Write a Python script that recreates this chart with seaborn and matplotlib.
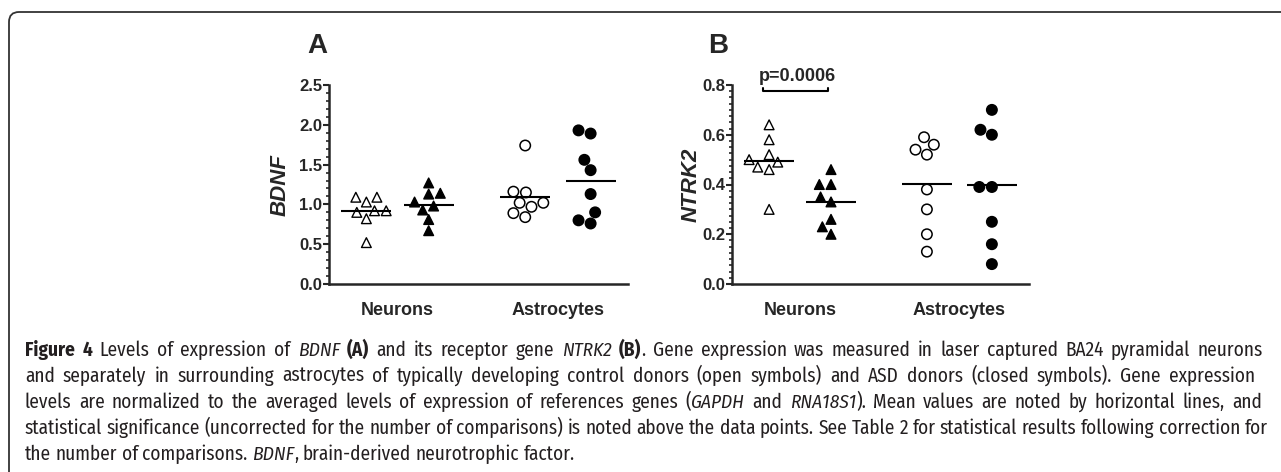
import numpy as np
import pandas as pd
import matplotlib
matplotlib.use('Agg')
import matplotlib.pyplot as plt
import seaborn as sns
from matplotlib import font_manager
from matplotlib.patches import FancyBboxPatch
from matplotlib.transforms import IdentityTransform
from matplotlib.ticker import MultipleLocator

# dados
grupos = ['Neurons', 'Astrocytes']
doadores = ['Control', 'ASD']

bdnf_neu_ctrl = [0.92, 1.09, 0.90, 1.03, 0.82, 1.09, 0.92, 0.52]
bdnf_neu_asd = [1.27, 1.13, 1.14, 0.98, 0.93, 1.03, 0.81, 0.67]
bdnf_ast_ctrl = [1.74, 1.16, 1.15, 1.02, 1.02, 0.97, 0.89, 0.84]
bdnf_ast_asd = [1.93, 1.89, 1.56, 1.43, 1.13, 0.90, 0.76, 0.80]

ntrk2_neu_ctrl = [0.64, 0.58, 0.52, 0.50, 0.49, 0.47, 0.46, 0.30]
ntrk2_neu_asd = [0.46, 0.40, 0.40, 0.35, 0.33, 0.26, 0.23, 0.20]
ntrk2_ast_ctrl = [0.59, 0.56, 0.54, 0.52, 0.38, 0.30, 0.20, 0.13]
ntrk2_ast_asd = [0.70, 0.60, 0.62, 0.39, 0.39, 0.25, 0.16, 0.08]

p_texto = 'p=0.0006'

# posicoes das colunas no eixo x
pos = [0, 1, 2.55, 3.6]

sns.set_style('ticks')
plt.rcParams['font.family'] = ['Liberation Sans', 'DejaVu Sans']

fig = plt.figure(figsize=(12.81, 4.72), dpi=100)


def monta(valores, p0, p1):
    a, b = valores
    return pd.DataFrame({'x': [p0] * len(a) + [p1] * len(b),
                         'y': a + b,
                         'doador': ['Control'] * len(a) + ['ASD'] * len(b)})


def painel(ax, dados, ymax, maior, menor, ylabel, label_x):
    neu = monta(dados[0:2], pos[0], pos[1])
    ast = monta(dados[2:4], pos[2], pos[3])
    cores = {'Control': 'white', 'ASD': 'black'}
    sns.swarmplot(data=neu, x='x', y='y', hue='doador', palette=cores, marker='^',
                  size=7, edgecolor='black', linewidth=1, native_scale=True,
                  legend=False, ax=ax)
    sns.swarmplot(data=ast, x='x', y='y', hue='doador', palette=cores, marker='o',
                  size=7.5, edgecolor='black', linewidth=1.1, native_scale=True,
                  legend=False, ax=ax)
    # linhas das medias
    for p, v in zip(pos, dados):
        ax.hlines(np.mean(v), p - 0.4, p + 0.4, color='black', lw=1.5, zorder=5)
    ax.set_xlim(-0.6, 4.2)
    ax.set_ylim(0, ymax)
    ax.yaxis.set_major_locator(MultipleLocator(maior))
    ax.yaxis.set_minor_locator(MultipleLocator(menor))
    ax.yaxis.set_major_formatter(matplotlib.ticker.FormatStrFormatter('%.1f'))
    ax.set_xticks([(pos[0] + pos[1]) / 2, (pos[2] + pos[3]) / 2])
    ax.set_xticklabels(grupos, fontsize=13, fontweight='bold')
    ax.tick_params(axis='x', length=0, pad=13)
    ax.tick_params(axis='y', which='major', length=4, width=1.5, labelsize=12, pad=1)
    ax.tick_params(axis='y', which='minor', length=2.5, width=1.2)
    for t in ax.get_yticklabels():
        t.set_fontweight('bold')
    ax.set_xlabel('')
    ax.set_ylabel(ylabel, fontsize=16, fontweight='bold', fontstyle='italic')
    ax.yaxis.set_label_coords(label_x, 0.5)
    sns.despine(ax=ax)
    for s in ['left', 'bottom']:
        ax.spines[s].set_linewidth(1.8)


ax1 = fig.add_axes([329 / 1281, 188 / 472, 299 / 1281, 199 / 472])
painel(ax1, [bdnf_neu_ctrl, bdnf_neu_asd, bdnf_ast_ctrl, bdnf_ast_asd],
       2.5, 0.5, 0.1, 'BDNF', -0.127)

ax2 = fig.add_axes([732 / 1281, 188 / 472, 297 / 1281, 199 / 472])
painel(ax2, [ntrk2_neu_ctrl, ntrk2_neu_asd, ntrk2_ast_ctrl, ntrk2_ast_asd],
       0.8, 0.2, 0.025, 'NTRK2', -0.104)

# significancia
ax2.plot([pos[0] - 0.1, pos[0] - 0.1, pos[1] - 0.05, pos[1] - 0.05],
         [0.788, 0.776, 0.776, 0.788], color='black', lw=1.5, clip_on=False)
ax2.text((pos[0] + pos[1]) / 2 - 0.05, 0.80, p_texto, ha='center', va='bottom',
         fontsize=13, fontweight='bold', clip_on=False)

# letras dos paineis
fig.text(307 / 1281, 1 - 53 / 472, 'A', fontsize=20, fontweight='bold', va='baseline')
fig.text(708 / 1281, 1 - 53 / 472, 'B', fontsize=20, fontweight='bold', va='baseline')

# moldura arredondada
moldura = FancyBboxPatch((9, -40), 1320, 460 + 40, boxstyle='round,pad=0,rounding_size=10',
                         transform=IdentityTransform(), fill=False, ec='#333333', lw=1.3)
fig.patches.append(moldura)

# legenda da figura
nomes = [f.name for f in font_manager.fontManager.ttflist]
fonte_leg = 'Fira Sans Condensed' if 'Fira Sans Condensed' in nomes else 'DejaVu Sans'

linhas = [
    [('Figure 4', 'b'), ('Levels of expression of', 'n'), ('BDNF', 'i'), ('(A)', 'b'),
     ('and its receptor gene', 'n'), ('NTRK2', 'i'), ('(B)', 'b'),
     ('. Gene expression was measured in laser captured BA24 pyramidal neurons', 'n', 0)],
    [('and separately in surrounding astrocytes of typically developing control donors '
      '(open symbols) and ASD donors (closed symbols). Gene expression', 'n')],
    [('levels are normalized to the averaged levels of expression of references genes (', 'n'),
     ('GAPDH', 'i', 0), ('and', 'n'), ('RNA18S1', 'i'),
     ('). Mean values are noted by horizontal lines, and', 'n', 0)],
    [('statistical significance (uncorrected for the number of comparisons) is noted above '
      'the data points. See Table 2 for statistical results following correction for', 'n')],
    [('the number of comparisons.', 'n'), ('BDNF', 'i'), (', brain-derived neurotrophic factor.', 'n', 0)],
]
# fim de cada linha no original (None = sem justificar)
fins = [1263, 1255, 1262, 1268, None]

renderer = fig.canvas.get_renderer()
cor_txt = '#231f20'


def estilo(k):
    return {'n': dict(fontweight='normal'), 'b': dict(fontweight='bold'),
            'i': dict(fontstyle='italic')}[k]


def largura(s, tam, k):
    t = fig.text(0, 0, s, fontsize=tam, family=fonte_leg, **estilo(k))
    w = t.get_window_extent(renderer).width
    t.remove()
    return w


def palavras(runs):
    # separa cada trecho em palavras: (texto, estilo, tem espaco antes)
    out = []
    for i, r in enumerate(runs):
        partes = r[0].split(' ')
        for j, p in enumerate(partes):
            antes = (j > 0) or (i > 0 and len(r) < 3)
            out.append((p, r[1], antes))
    return out


def escreve_linha(runs, y, tam, fim=None, desenha=True):
    esp = largura('x x', tam, 'n') - largura('xx', tam, 'n')
    pal = palavras(runs)
    ws = [largura(p, tam, k) for p, k, _ in pal]
    n_esp = sum(1 for _, _, a in pal if a)
    natural = 25 + sum(ws) + n_esp * esp
    extra = 0
    if fim is not None and n_esp > 0:
        extra = max(0, (fim - natural) / n_esp)
    x = 25
    for (p, k, a), w in zip(pal, ws):
        if a:
            x += esp + extra
        if desenha:
            fig.text(x / 1281, 1 - y / 472, p, fontsize=tam, family=fonte_leg,
                     color=cor_txt, va='baseline', **estilo(k))
        x += w
    return natural


tam = 14
escalas = []
for runs, f in zip(linhas[:4], fins):
    nat = escreve_linha(runs, 0, tam, desenha=False)
    escalas.append((f - 25) / (nat - 25))
tam = tam * min(escalas)
for j, runs in enumerate(linhas):
    escreve_linha(runs, 356 + 26 * j, tam, fins[j])

fig.savefig('out.png', dpi=100)
